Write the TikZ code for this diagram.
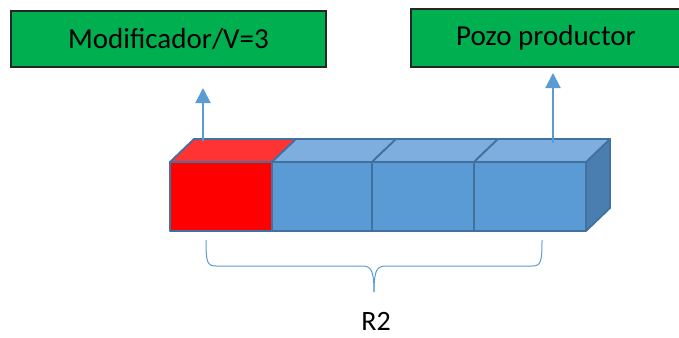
\documentclass[tikz,border=0pt]{standalone}
\usepackage{fontspec}
\setmainfont{Carlito}
\usetikzlibrary{arrows.meta,decorations.pathreplacing}
\definecolor{boxgreen}{HTML}{00B050}
\definecolor{cellfront}{HTML}{5B9BD5}
\definecolor{celltop}{HTML}{7DAEDF}
\definecolor{cellside}{HTML}{4A7EB1}
\definecolor{cellline}{HTML}{41719C}
\definecolor{redtop}{HTML}{FF3333}
\definecolor{arrowblue}{HTML}{5B9BD5}
\begin{document}
\begin{tikzpicture}[x=1pt,y=-1pt,
  labelbox/.style={draw=black!85,line width=1.6pt,fill=boxgreen,inner sep=0pt,font=\fontsize{29}{32}\selectfont},
  cellface/.style={draw=cellline,line width=1.8pt,line join=round},
  uparrow/.style={draw=arrowblue,line width=2pt,-{Triangle[length=15pt,width=15pt]}},
  bracestyle/.style={draw=arrowblue,line width=1pt}]
\useasboundingbox (0,0) rectangle (679,337);
% green boxes
\node[labelbox,minimum width=315pt,minimum height=56pt] (mod) at (168.5,39) {\raisebox{-3pt}{Modificador/V=3}};
\node[labelbox,minimum width=270pt,minimum height=58pt] (pozo) at (546,38) {\raisebox{-3pt}{Pozo productor}};
% side face
\fill[cellside] (586,162) -- (610,139) -- (610,208) -- (586,231) -- cycle;
\draw[cellface] (586,162) -- (610,139) -- (610,208) -- (586,231);
% top faces
\filldraw[cellface,fill=redtop] (170,162) -- (194,139) -- (296,139) -- (272,162) -- cycle;
\filldraw[cellface,fill=celltop] (272,162) -- (296,139) -- (396,139) -- (372,162) -- cycle;
\filldraw[cellface,fill=celltop] (372,162) -- (396,139) -- (498,139) -- (474,162) -- cycle;
\filldraw[cellface,fill=celltop] (474,162) -- (498,139) -- (610,139) -- (586,162) -- cycle;
% front faces
\filldraw[cellface,fill=cellfront] (272,162) rectangle (372,231);
\filldraw[cellface,fill=cellfront] (372,162) rectangle (474,231);
\filldraw[cellface,fill=cellfront] (474,162) rectangle (586,231);
\filldraw[cellface,fill=red] (170,162) rectangle (272,231);
% arrows
\coordinate (a1s) at (203,141);
\coordinate (a1e) at (203,88);
\coordinate (a2s) at (553,143);
\coordinate (a2e) at (553,73);
\draw[uparrow] (a1s) -- (a1e);
\draw[uparrow] (a2s) -- (a2e);
% brace
\coordinate (bl) at (206,240);
\coordinate (br) at (542,240);
\draw[bracestyle] (bl) .. controls (206,262) and (207,266) .. (216,266)
  -- (362,266) .. controls (371,266) and (374,270) .. (374,292);
\draw[bracestyle] (br) .. controls (542,262) and (541,266) .. (532,266)
  -- (386,266) .. controls (377,266) and (374,270) .. (374,292);
\node[font=\fontsize{28}{32}\selectfont,anchor=base] (r2) at (376,330) {R2};
\end{tikzpicture}
\end{document}
